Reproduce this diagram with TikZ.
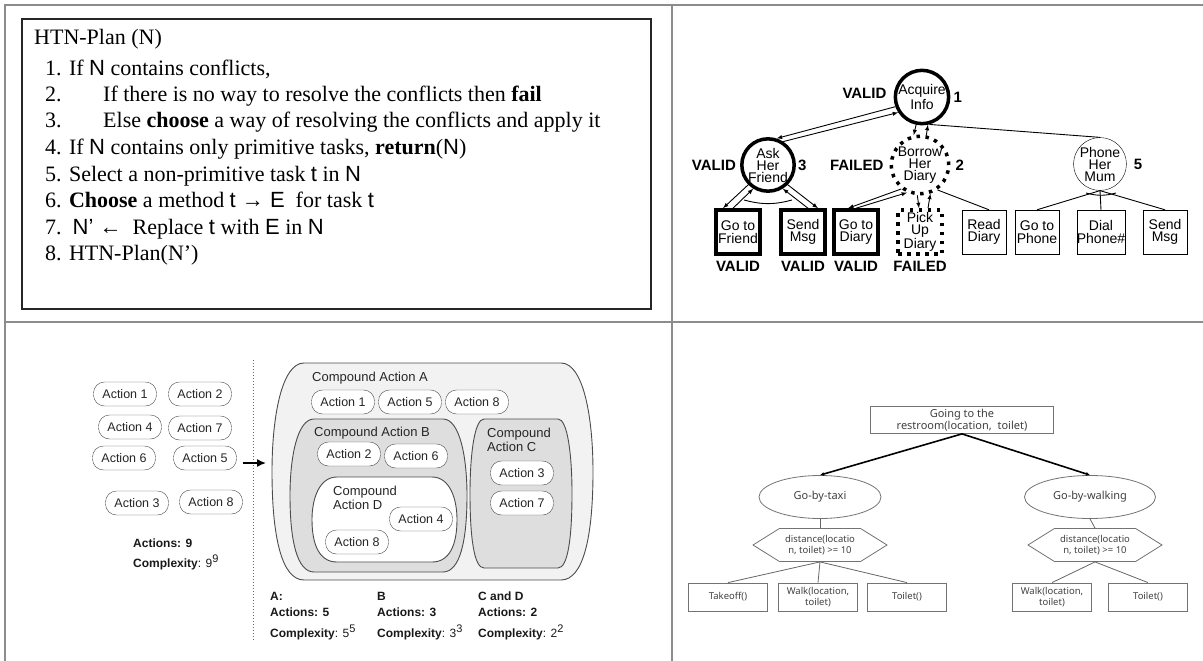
\documentclass[tikz,border=0pt]{standalone}
\usepackage{fontspec}
\setmainfont{Liberation Serif}
\setsansfont{Liberation Sans}
\newfontfamily\kofont{Noto Sans}
\usetikzlibrary{positioning,arrows.meta,shapes.geometric,shapes.symbols}
\newcommand{\pod}[6]{\filldraw[blob,fill=#6] ({#1+#5},#2) -- ({#3-#5},#2)
	.. controls ({#3-0.3*#5},#2) and (#3,{#2+0.25*(#4-#2)}) .. (#3,{0.5*(#2+#4)})
	.. controls (#3,{#4-0.2*(#4-#2)}) and ({#3-0.3*#5},#4) .. ({#3-#5},#4)
	-- ({#1+#5},#4)
	.. controls ({#1+0.3*#5},#4) and (#1,{#4-0.2*(#4-#2)}) .. (#1,{0.5*(#2+#4)})
	.. controls (#1,{#2+0.25*(#4-#2)}) and ({#1+0.3*#5},#2) .. cycle;}
\newcommand{\pw}[1]{\raisebox{5pt}{\fontseries{m}\fontsize{11}{11}\selectfont #1}}

\begin{document}
\begin{tikzpicture}[x=1pt,y=-1pt]
		\tikzset{
			panelline/.style={draw=black!45,line width=2.5pt},
			algo/.style={anchor=mid west,inner sep=0pt,font=\fontsize{22}{26}\selectfont},
			goal/.style={circle,draw,minimum size=47pt,inner sep=0pt,align=center,font=\sffamily\fontsize{14}{12}\selectfont},
			task/.style={rectangle,draw,minimum size=44pt,inner sep=0pt,align=center,font=\sffamily\fontsize{14}{12.5}\selectfont},
			ok/.style={line width=3.5pt},
			bad/.style={line width=3.5pt,dash pattern=on 3.5pt off 5.5pt},
			tag/.style={font=\sffamily\bfseries\fontsize{15}{15}\selectfont,inner sep=0pt},
			link/.style={-latex,line width=0.9pt},
			pill/.style={rectangle,rounded corners=11pt,draw=black!70,fill=white,minimum width=63pt,minimum height=24pt,inner sep=0pt,text=black!85,font=\sffamily\fontsize{12.5}{13}\selectfont},
			blob/.style={draw=black!70,line width=0.9pt},
			cname/.style={anchor=west,inner sep=0pt,align=left,text=black!85,font=\sffamily\fontsize{13}{14}\selectfont},
			tally/.style={anchor=north west,inner sep=0pt,align=left,text=black!90,font=\sffamily\fontsize{12}{16}\selectfont},
			hbox/.style={rectangle,draw=black!55,line width=0.8pt,minimum width=79pt,minimum height=28pt,inner sep=1pt,align=center,text=black!75,font=\kofont\fontsize{9.5}{11.5}\selectfont},
			oval/.style={ellipse,draw=black!55,line width=0.8pt,minimum height=43pt,inner sep=0pt,text=black!75,font=\kofont\fontsize{11}{12}\selectfont},
			hex/.style={signal,signal to=west and east,signal pointer angle=64,draw=black!55,line width=0.8pt,minimum width=134pt,minimum height=33pt,inner sep=1pt,align=center,text=black!75,font=\kofont\fontsize{9.5}{11.5}\selectfont},
			twig/.style={draw=black!60,line width=0.8pt},
			branch/.style={-{Latex[length=4pt,width=4pt]},line width=1.6pt}
		}
		\useasboundingbox (0,0) rectangle (1203,661);
		\draw[panelline] (5,661) -- (5,5) -- (1203,5);
		\draw[panelline] (5,322) -- (1203,322);
		\draw[panelline] (672,5) -- (672,661);

		\draw[line width=1.2pt,black!85] (22,19) rectangle (651,309);
		\node[algo] (head) at (34,42) {HTN-Plan (N)};
		\node[algo] (s1) at (45,73) {1. If \textsf{N} contains conflicts,};
		\node[algo] (s2) at (45,99) {\makebox[58pt][l]{2.}If there is no way to resolve the conflicts then \textbf{fail}};
		\node[algo] (s3) at (45,125) {\makebox[58pt][l]{3.}Else \textbf{choose} a way of resolving the conflicts and apply it};
		\node[algo] (s4) at (45,152) {4. If \textsf{N} contains only primitive tasks, \textbf{return}(\textsf{N})};
		\node[algo] (s5) at (45,179) {5. Select a non-primitive task \textsf{t} in \textsf{N}};
		\node[algo] (s6) at (45,205) {6. \textbf{Choose} a method \textsf{t → E}\ \ for task \textsf{t}};
		\node[algo] (s7) at (45,232) {7.\ \ \textsf{N' ←}\ \ Replace \textsf{t} with \textsf{E} in \textsf{N}};
		\node[algo] (s8) at (45,258) {8. HTN-Plan(N')};

		\node[goal,ok] (acq) at (922,97) {Acquire\\Info};
		\node[goal,ok] (ask) at (768,165) {Ask\\Her\\Friend};
		\node[goal,bad] (bor) at (920,165) {Borrow\\Her\\Diary};
		\node[goal] (mum) at (1100,164) {Phone\\Her\\Mum};
		\node[task,ok] (gofr) at (738,232) {Go to\\Friend};
		\node[task,ok] (send) at (803,232) {Send\\Msg};
		\node[task,ok] (godi) at (856,232) {Go to\\Diary};
		\node[task,bad] (pick) at (920,232) {Pick\\Up\\Diary};
		\node[task] (read) at (984,232) {Read\\Diary};
		\node[task] (goph) at (1037,232) {Go to\\Phone};
		\node[task] (dial) at (1101,232) {Dial\\Phone\#};
		\node[task] (msg) at (1165,232) {Send\\Msg};
		\node[tag,left=7pt of acq,yshift=4pt] (v1) {VALID};
		\node[tag,right=3pt of acq] (n1) {1};
		\node[tag,left=4pt of ask] (v3) {VALID};
		\node[tag,right=2pt of ask] (n3) {3};
		\node[tag,left=6pt of bor] (f2) {FAILED};
		\node[tag,right=5pt of bor] (n2) {2};
		\node[tag,right=7pt of mum] (n5) {5};
		\node[tag,below=5pt of gofr] (vg) {VALID};
		\node[tag,below=5pt of send] (vs) {VALID};
		\node[tag,below=5pt of godi] (vd) {VALID};
		\node[tag,below=5pt of pick] (fp) {FAILED};
		\draw[link] (acq.200) -- (ask.72);
		\draw[link] (ask.57) -- (acq.213);
		\draw[link] (acq.258) -- (bor.102);
		\draw[link] (bor.78) -- (acq.282);
		\draw[line width=0.9pt] (acq.-75) -- (mum.north);
		\draw[link] (ask.225) -- ([xshift=-15pt]gofr.north);
		\draw[link] ([xshift=-5pt]gofr.north) -- (ask.238);
		\draw[link] (ask.-45) -- ([xshift=15pt]send.north);
		\draw[link] ([xshift=5pt]send.north) -- (ask.-58);
		\coordinate (andl) at (744,200);
		\coordinate (andr) at (792,200);
		\draw[line width=0.9pt] (andl) to[bend right=15] (andr);
		\draw[link] (bor.232) -- ([xshift=-8pt]godi.north);
		\draw[link] (godi.north) -- (bor.245);
		\draw[link] (bor.265) -- ([xshift=-1pt]pick.north);
		\draw[link] ([xshift=8pt]pick.north) -- (bor.290);
		\draw[line width=0.9pt] (bor.-55) -- ([xshift=5pt]read.north);
		\draw[line width=0.9pt] (mum.south) -- (goph.north);
		\draw[line width=0.9pt] (mum.south) -- (dial.north);
		\draw[line width=0.9pt] (mum.south) -- (msg.north);
		\coordinate (orl) at (1086,193);
		\coordinate (orr) at (1116,193);
		\draw[line width=0.9pt] (orl) to[bend right=15] (orr);

		\draw[dotted,black!60,line width=1pt] (253,360) -- (253,640);
		\node[pill] (a1) at (125,394) {Action 1};
		\node[pill] (a2) at (200,394) {Action 2};
		\node[pill] (a4) at (130,427) {Action 4};
		\node[pill] (a7) at (200,428) {Action 7};
		\node[pill] (a6) at (124,458) {Action 6};
		\node[pill] (a5) at (205,458) {Action 5};
		\node[pill] (a3) at (137,503) {Action 3};
		\node[pill] (a8) at (211,502) {Action 8};
		\node[tally] (t9) at (133,539) {\textbf{Actions: 9}\\[4pt]\textbf{Complexity}: 9\pw{9}};
		\coordinate (ain) at (266,463);
		\draw[-{Latex[length=9pt,width=8pt]},line width=1.5pt] ([xshift=6pt,yshift=-5pt]a5.east) -- (ain);
		\pod{272}{363}{593}{580}{32}{black!5}
		\pod{290}{419}{467}{572}{24}{black!13}
		\pod{312}{477}{457}{562}{25}{white}
		\pod{470}{419}{572}{568}{14}{black!13}
		\node[cname] (ca) at (312,378) {Compound Action A};
		\node[pill] (ca1) at (343,402) {Action 1};
		\node[pill] (ca5) at (410,402) {Action 5};
		\node[pill] (ca8) at (477,402) {Action 8};
		\node[cname] (cb) at (314,433) {Compound Action B};
		\node[pill] (cb2) at (349,454) {Action 2};
		\node[pill] (cb6) at (416,456) {Action 6};
		\node[cname] (cd) at (333,498) {Compound\\Action D};
		\node[pill] (cd4) at (421,519) {Action 4};
		\node[pill] (cd8) at (357,542) {Action 8};
		\node[cname] (cc) at (487,440) {Compound\\Action C};
		\node[pill] (cc3) at (522,473) {Action 3};
		\node[pill] (cc7) at (522,503) {Action 7};
		\node[tally] (ta) at (270,592) {\textbf{A:}\\\textbf{Actions: 5}\\[5pt]\textbf{Complexity}: 5\pw{5}};
		\node[tally] (tb) at (377,592) {\textbf{B}\\\textbf{Actions: 3}\\[5pt]\textbf{Complexity}: 3\pw{3}};
		\node[tally] (tc) at (478,592) {\textbf{C and D}\\\textbf{Actions: 2}\\[5pt]\textbf{Complexity}: 2\pw{2}};

		\node[hbox,minimum width=183pt,minimum height=27pt,font=\kofont\fontsize{11}{12.5}\selectfont] (root) at (962,420) {Going to the\\restroom(location,\ \ toilet)};
		\node[oval,minimum width=122pt] (taxi) at (820,497) {Go-by-taxi};
		\node[oval,minimum width=131pt] (walk) at (1090,497) {Go-by-walking};
		\node[hex] (hexl) at (820,545) {distance(locatio\\n, toilet) >= 10};
		\node[hex] (hexr) at (1095,545) {distance(locatio\\n, toilet) >= 10};
		\node[hbox] (tk) at (728,597) {Takeoff()};
		\node[hbox] (wk) at (818,597) {Walk(location,\\toilet)};
		\node[hbox] (tl) at (907,597) {Toilet()};
		\node[hbox] (wk2) at (1052,597) {Walk(location,\\toilet)};
		\node[hbox] (tl2) at (1148,597) {Toilet()};
		\draw[branch] (root.south) -- (taxi.north);
		\draw[branch] (root.south) -- (walk.north);
		\draw[twig] (taxi.south) -- (hexl.north);
		\draw[twig] (walk.south) -- (hexr.north);
		\draw[twig] (hexl.south) -- (tk.north);
		\draw[twig] (hexl.south) -- (wk.north);
		\draw[twig] (hexl.south) -- (tl.north);
		\draw[twig] (hexr.south) -- (wk2.north);
		\draw[twig] (hexr.south) -- (tl2.north);
	\end{tikzpicture}
\end{document}
